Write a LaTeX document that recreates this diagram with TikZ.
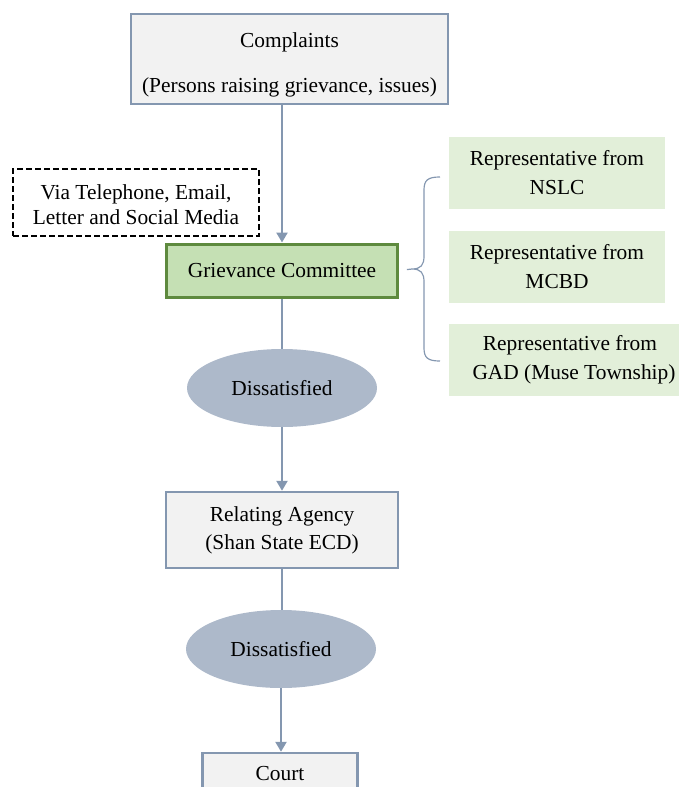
\documentclass[tikz,border=0pt]{standalone}
\usepackage{fontspec}
\setmainfont{Liberation Serif}
\usepackage{tikz}
\usetikzlibrary{arrows.meta,shapes.geometric}
\definecolor{edgeblue}{HTML}{8497B0}
\definecolor{boxgray}{HTML}{F2F2F2}
\definecolor{gcgreen}{HTML}{C5E0B4}
\definecolor{gcedge}{HTML}{5E8A3E}
\definecolor{repgreen}{HTML}{E2EFD9}
\definecolor{disfill}{HTML}{ADB9CA}
\newcommand{\nodefont}{\fontsize{10.7}{12.5}\selectfont}

\begin{document}
\begin{tikzpicture}[x=0.5pt,y=-0.5pt,
  bx/.style={draw=edgeblue,line width=1.25pt,fill=#1,align=center,font=\nodefont,inner sep=0pt},bx/.default=boxgray,
  rep/.style={fill=repgreen,align=center,font=\nodefont,inner sep=0pt,minimum height=36pt},
  dis/.style={ellipse,fill=disfill,font=\nodefont,inner sep=0pt,minimum width=95pt,minimum height=39pt},
  conn/.style={draw=edgeblue,line width=1.25pt},
  arr/.style={-{Triangle[width=5.5pt,length=5pt]}},
  brc/.style={draw=edgeblue,line width=0.6pt}]
  \useasboundingbox (0,0) rectangle (679,787);
  \clip (0,0) rectangle (679,787);
  \node[bx,minimum width=158.5pt,minimum height=45pt] (cmp) at (289.5,59) {\rule{0pt}{13.5pt}Complaints\\[10pt](Persons raising grievance, issues)};
  \node[draw,line width=0.75pt,dash pattern=on 3pt off 1.5pt,align=center,font=\nodefont,inner sep=0pt,
        minimum width=123pt,minimum height=33.5pt] (via) at (136,202.5) {\rule{0pt}{9.5pt}Via Telephone, Email,\\Letter and Social Media};
  \node[bx=gcgreen,draw=gcedge,line width=1.5pt,minimum width=115.5pt,minimum height=26.5pt] (gc) at (282,270.5) {Grievance Committee};
  \node[rep,minimum width=108pt] (r1) at (557,173) {Representative from\\[2pt]NSLC};
  \node[rep,minimum width=108pt] (r2) at (557,266.5) {Representative from\\[2pt]MCBD};
  \node[rep,minimum width=115pt] (r3) at (564,360) {\hspace*{6pt}Representative from\\[2pt]\hspace*{10pt}GAD (Muse Township)};
  \node[dis] (d1) at (282,388) {Dissatisfied};
  \node[bx,minimum width=116pt,minimum height=38pt] (ag) at (282,530) {Relating Agency\\[1.5pt](Shan State ECD)};
  \node[dis] (d2) at (281,649) {Dissatisfied};
  \node[bx,minimum width=77.5pt,minimum height=21pt] (ct) at (280,774) {Court};
  % flow down the middle
  \draw[conn,arr] (cmp.south -| gc.north) -- (gc.north);
  \draw[conn] (gc.south) -- (d1.north);
  \draw[conn,arr] (d1.south) -- (ag.north);
  \draw[conn] (ag.south) -- (ag.south |- d2.north);
  \draw[conn,arr] (d2.south) -- (d2.south |- ct.north);
  % brace grouping the representatives
  \coordinate (tip) at (412,269);
  \draw[brc] (440,177) .. controls (428,177) and (424,180) .. (424,190) -- (424,256)
    .. controls (424,265) and (421,269) .. (tip)
    .. controls (421,269) and (424,273) .. (424,282) -- (424,348)
    .. controls (424,358) and (428,361) .. (440,361);
  \draw[brc,shorten <=4pt] (gc.east) -- (tip);
\end{tikzpicture}
\end{document}
